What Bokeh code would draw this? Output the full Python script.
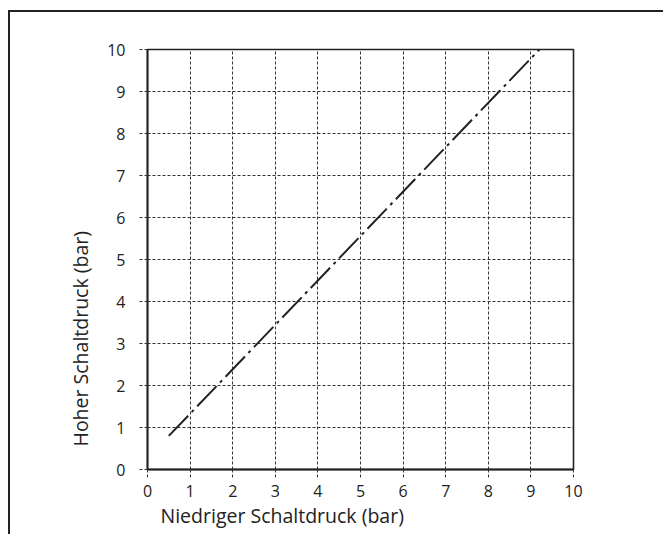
from bokeh.plotting import figure
from bokeh.models import Title, FixedTicker, Range1d
from bokeh.embed import file_html
from bokeh.resources import INLINE

# data
low_pressure = [0.5, 9.2]
high_pressure = [0.8, 10.0]
tick_values = [0, 1, 2, 3, 4, 5, 6, 7, 8, 9, 10]
x_title = "Niedriger Schaltdruck (bar)"
y_title = "Hoher Schaltdruck (bar)"

FONT = "Open Sans"
DARK = "#222222"

p = figure(width=655, height=524, output_backend="svg", toolbar_location=None,
           x_range=Range1d(0, 10), y_range=Range1d(0, 10),
           min_border_left=137, min_border_right=92, min_border_top=37, min_border_bottom=67)
p.styles = {"border-left": "2px solid #222", "border-top": "2px solid #222",
            "margin-top": "10px", "margin-left": "8px"}

p.background_fill_color = "white"
p.border_fill_color = "white"
p.outline_line_color = DARK
p.outline_line_width = 1.6

for ax in (p.xaxis[0], p.yaxis[0]):
    ax.ticker = FixedTicker(ticks=tick_values)
    ax.axis_line_color = DARK
    ax.axis_line_width = 1.8
    ax.major_tick_in = 0
    ax.major_tick_out = 8
    ax.major_tick_line_color = "#333333"
    ax.major_tick_line_dash = "3 2"
    ax.major_tick_line_width = 1
    ax.minor_tick_line_color = None
    ax.major_label_text_font = FONT
    ax.major_label_text_font_size = "16px"
    ax.major_label_text_color = DARK
p.xaxis.major_label_standoff = 7
p.yaxis.major_label_standoff = 14

p.grid.ticker = FixedTicker(ticks=tick_values)
p.grid.grid_line_color = "#333333"
p.grid.grid_line_dash = "3 2"
p.grid.grid_line_width = 1

p.line(low_pressure, high_pressure, line_color=DARK, line_width=2, line_dash="28 5 3 5")

p.add_layout(Title(text=x_title, align="left", offset=13, text_font=FONT,
                   text_font_size="19.5px", text_font_style="normal", text_color=DARK,
                   standoff=0), "below")
p.add_layout(Title(text=y_title, align="left", offset=23, text_font=FONT,
                   text_font_size="19.5px", text_font_style="normal", text_color=DARK,
                   standoff=21), "left")

open("out.html", "w").write(file_html(p, INLINE))
